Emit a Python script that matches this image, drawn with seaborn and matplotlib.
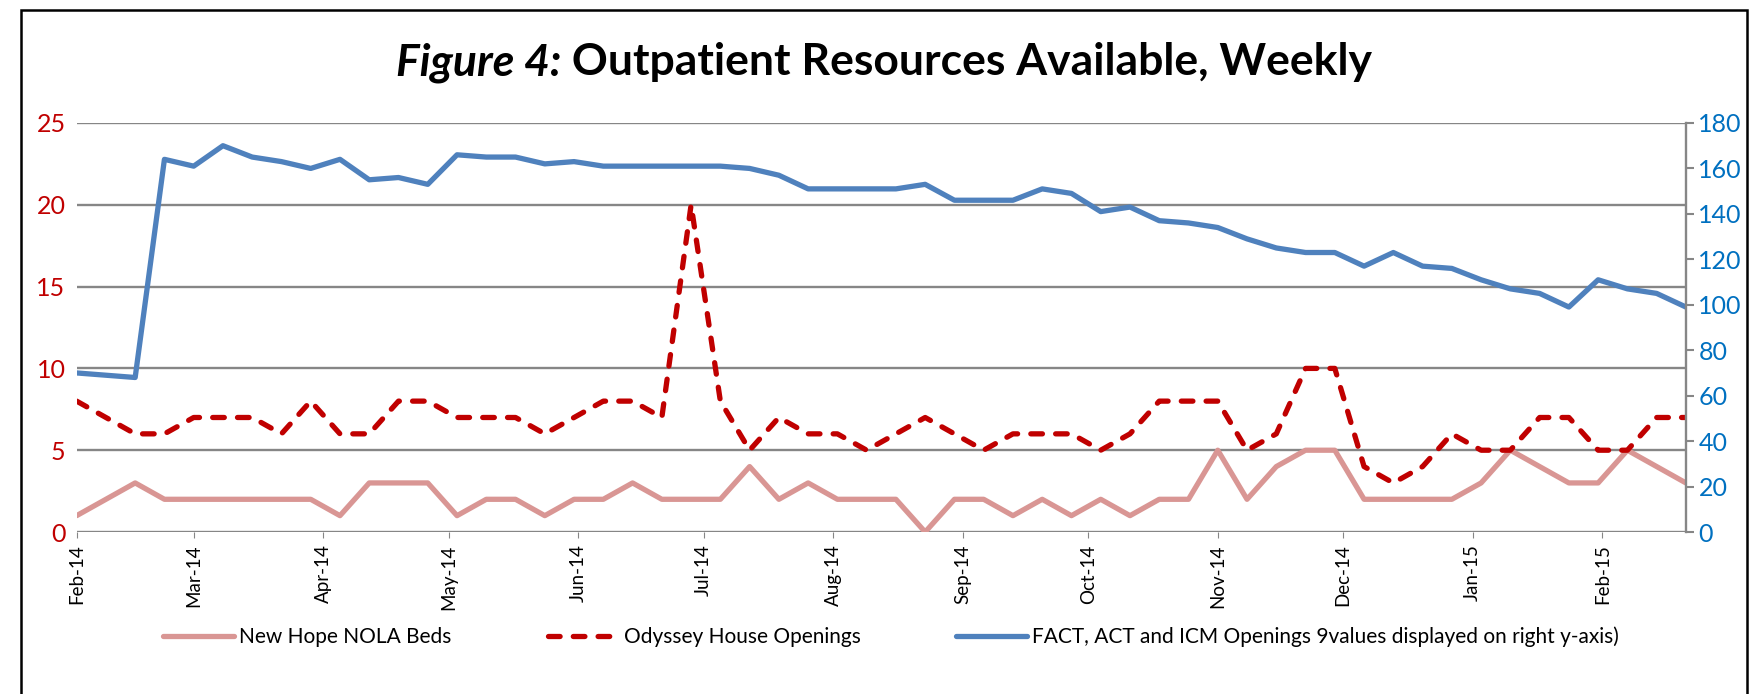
import pandas as pd
import seaborn as sns
import matplotlib.pyplot as plt
import matplotlib.dates as mdates
from matplotlib.patches import Rectangle

# weekly dates (the week of 2014-02-08 has no data in the source chart)
weeks = [
    "2014-02-01", "2014-02-15", "2014-02-22", "2014-03-01", "2014-03-08", "2014-03-15", "2014-03-22",
    "2014-03-29", "2014-04-05", "2014-04-12", "2014-04-19", "2014-04-26", "2014-05-03", "2014-05-10",
    "2014-05-17", "2014-05-24", "2014-05-31", "2014-06-07", "2014-06-14", "2014-06-21", "2014-06-28",
    "2014-07-05", "2014-07-12", "2014-07-19", "2014-07-26", "2014-08-02", "2014-08-09", "2014-08-16",
    "2014-08-23", "2014-08-30", "2014-09-06", "2014-09-13", "2014-09-20", "2014-09-27", "2014-10-04",
    "2014-10-11", "2014-10-18", "2014-10-25", "2014-11-01", "2014-11-08", "2014-11-15", "2014-11-22",
    "2014-11-29", "2014-12-06", "2014-12-13", "2014-12-20", "2014-12-27", "2015-01-03", "2015-01-10",
    "2015-01-17", "2015-01-24", "2015-01-31", "2015-02-07", "2015-02-14", "2015-02-21",
]

new_hope_beds = [1, 3, 2, 2, 2, 2, 2, 2, 1, 3, 3, 3, 1, 2, 2, 1, 2, 2, 3, 2, 2, 2, 4, 2, 3, 2, 2, 2,
                 0, 2, 2, 1, 2, 1, 2, 1, 2, 2, 5, 2, 4, 5, 5, 2, 2, 2, 2, 3, 5, 4, 3, 3, 5, 4, 3]

odyssey_openings = [8, 6, 6, 7, 7, 7, 6, 8, 6, 6, 8, 8, 7, 7, 7, 6, 7, 8, 8, 7, 20, 8, 5, 7, 6, 6, 5, 6,
                    7, 6, 5, 6, 6, 6, 5, 6, 8, 8, 8, 5, 6, 10, 10, 4, 3, 4, 6, 5, 5, 7, 7, 5, 5, 7, 7]

fact_act_icm = [70, 68, 164, 161, 170, 165, 163, 160, 164, 155, 156, 153, 166, 165, 165, 162, 163, 161,
                161, 161, 161, 161, 160, 157, 151, 151, 151, 151, 153, 146, 146, 146, 151, 149, 141, 143,
                137, 136, 134, 129, 125, 123, 123, 117, 123, 117, 116, 111, 107, 105, 99, 111, 107, 105, 99]

labels = ["New Hope NOLA Beds", "Odyssey House Openings",
          "FACT, ACT and ICM Openings 9values displayed on right y-axis)"]

df = pd.DataFrame({
    "week": pd.to_datetime(weeks),
    "beds": new_hope_beds,
    "odyssey": odyssey_openings,
    "fact": fact_act_icm,
})

sns.set_style("white")
plt.rcParams["font.family"] = ["Lato", "DejaVu Sans"]
plt.rcParams["text.color"] = "black"
plt.rcParams["xtick.labelcolor"] = "black"

PINK = "#D99694"
RED = "#C00000"
BLUE = "#4F81BD"
GRID = "#868686"

fig = plt.figure(figsize=(17.58, 6.94), dpi=100)
ax = fig.add_axes([0.0436, 0.2334, 0.9154, 0.5894])
ax2 = ax.twinx()

sns.lineplot(data=df, x="week", y="beds", ax=ax, color=PINK, linewidth=3.8, label=labels[0], legend=False)
sns.lineplot(data=df, x="week", y="odyssey", ax=ax, color=RED, linewidth=3.8, label=labels[1], legend=False)
red_line = ax.lines[-1]
red_line.set_dashes((2.2, 2.5))
red_line.set_dash_capstyle("round")
sns.lineplot(data=df, x="week", y="fact", ax=ax2, color=BLUE, linewidth=3.8, label=labels[2], legend=False)

ax.set_xlim(pd.Timestamp("2014-02-01"), pd.Timestamp("2015-02-21"))
ax.set_ylim(0, 25)
ax2.set_ylim(0, 180)
ax.set_yticks(range(0, 26, 5))
ax2.set_yticks(range(0, 181, 20))

ax.grid(axis="y", color=GRID, linewidth=1.7)
ax.grid(axis="x", visible=False)
ax2.grid(False)
ax.set_axisbelow(True)

for s in ax.spines.values():
    s.set_visible(False)
for name, s in ax2.spines.items():
    s.set_visible(name == "right")
ax2.spines["right"].set_color(GRID)
ax2.spines["right"].set_linewidth(1.7)

ax.xaxis.set_major_locator(mdates.MonthLocator())
ax.xaxis.set_major_formatter(mdates.DateFormatter("%b-%y"))
ax.tick_params(axis="x", labelrotation=90, labelsize=13.5, length=4, color=GRID, labelcolor="black",
               pad=5, bottom=True)
ax.tick_params(axis="y", labelsize=18, labelcolor=RED, length=0, pad=8)
ax2.tick_params(axis="y", labelsize=18, labelcolor="#0070C0", length=6, color=GRID, width=1.5, pad=3)
for lab in ax.get_xticklabels():
    lab.set_verticalalignment("top")

ax.set_xlabel("")
ax.set_ylabel("")
ax2.set_ylabel("")

handles = ax.get_lines()[:2] + ax2.get_lines()[:1]
fig.legend(handles, labels, loc="center", bbox_to_anchor=(0.507, 0.082), ncol=3, frameon=False,
           fontsize=15, handlelength=3.4, handletextpad=0.25, columnspacing=4.6, labelcolor="black")

# title: italic "Figure 4:" followed by bold text
fig.canvas.draw()
r = fig.canvas.get_renderer()
t1 = fig.text(0, 0.91, "Figure 4:", fontsize=32, fontweight="bold", fontstyle="italic", va="center",
              color="black")
t2 = fig.text(0, 0.91, " Outpatient Resources Available, Weekly", fontsize=32, fontweight="bold",
              va="center", color="black")
w1 = t1.get_window_extent(r).width
w2 = t2.get_window_extent(r).width
x0 = 0.503 * 1758 - (w1 + w2) / 2
t1.set_x(x0 / 1758)
t2.set_x((x0 + w1) / 1758)

fig.patches.append(Rectangle((21 / 1758, -0.1), (1747 - 21) / 1758, 1.1 - 10 / 694, transform=fig.transFigure,
                             fill=False, edgecolor="black", linewidth=1.8))

fig.savefig("out.png", dpi=100)
